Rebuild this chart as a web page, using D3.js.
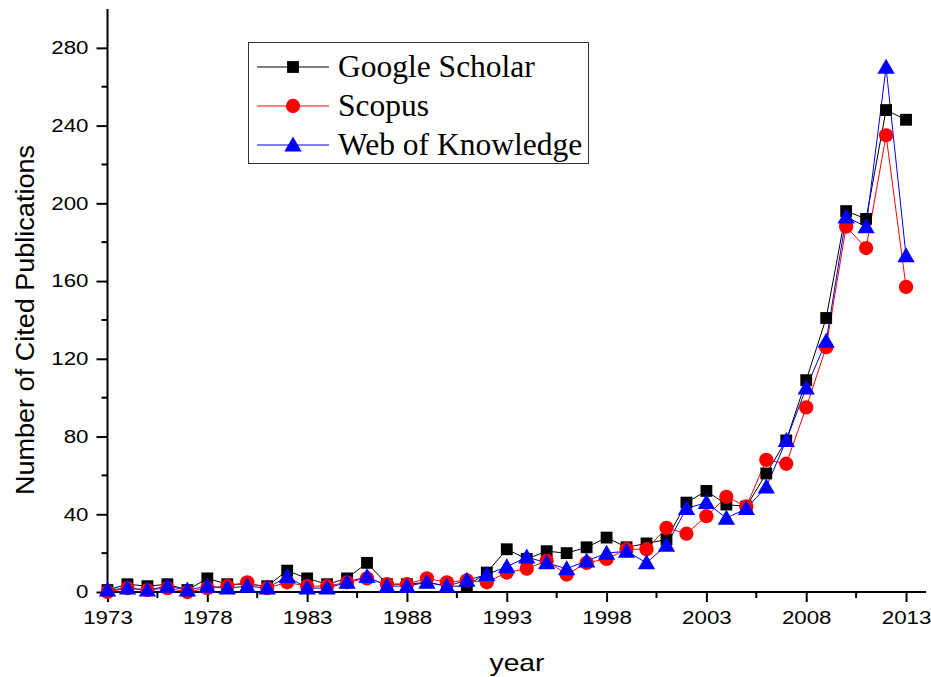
<!DOCTYPE html>
<html>
<head>
<meta charset="utf-8">
<script src="https://cdn.jsdelivr.net/npm/d3@7"></script>
<style>
  html, body { margin: 0; padding: 0; background: #fff; }
  svg { display: block; }
</style>
</head>
<body>
<svg id="chart" width="931" height="677"></svg>
<script>
const years = d3.range(1973, 2014);
const googleScholar = [1,4,3,4,1,7,4,4,3,11,7,4,7,15,4,4,5,3,3,10,22,17,21,20,23,28,23,25,27,46,52,45,44,61,78,109,141,196,192,248,243];
const scopus =        [0,2,1,2,0,2,3,5,2,5,3,3,5,7,4,4,7,5,6,5,10,12,16,9,15,17,22,22,33,30,39,49,44,68,66,95,126,188,177,235,157];
const webOfKnowledge =[1,2,1,3,1,3,2,3,2,8,2,2,5,8,3,3,5,3,6,9,13,18,15,12,16,20,21,15,24,43,46,38,43,54,78,105,129,193,188,270,173];
const xTickLabels = [1973, 1978, 1983, 1988, 1993, 1998, 2003, 2008, 2013];
const yTickLabels = [0, 40, 80, 120, 160, 200, 240, 280];
const seriesNames = ["Google Scholar", "Scopus", "Web of Knowledge"];

const svg = d3.select("#chart");
const x = d3.scaleLinear().domain([1973, 2014]).range([107.5, 926]);
const y = d3.scaleLinear().domain([0, 300]).range([592, 9]);
const sans = "Liberation Sans, Arial, sans-serif";
const digitW = 12.4;

// axis lines
svg.append("line").attr("x1", x(1973) - 1).attr("x2", x(2014)).attr("y1", y(0)).attr("y2", y(0))
  .attr("stroke", "#000").attr("stroke-width", 2);
svg.append("line").attr("x1", x(1973)).attr("x2", x(1973)).attr("y1", y(0) + 1).attr("y2", y(300))
  .attr("stroke", "#000").attr("stroke-width", 2);

const xMinor = d3.range(1975.5, 2014, 5);
const xAxis = d3.axisBottom(x).tickValues(xTickLabels).tickFormat(d3.format("d")).tickSize(10).tickSizeOuter(0);
const gx = svg.append("g").attr("transform", `translate(0,${y(0)})`).call(xAxis);
gx.select(".domain").remove();
gx.selectAll(".tick line").attr("stroke-width", 2);
gx.selectAll(".tick text").attr("font-family", sans).attr("font-size", 18).attr("y", 16).attr("dy", "0.9em")
  .attr("fill", "#000").attr("textLength", d => String(d).length * digitW).attr("lengthAdjust", "spacingAndGlyphs");
svg.append("g").selectAll("line").data(xMinor).join("line")
  .attr("x1", d => x(d)).attr("x2", d => x(d)).attr("y1", y(0)).attr("y2", y(0) + 6)
  .attr("stroke", "#000").attr("stroke-width", 2);

const yAxis = d3.axisLeft(y).tickValues(yTickLabels).tickSize(11).tickSizeOuter(0);
const gy = svg.append("g").attr("transform", `translate(${x(1973)},0)`).call(yAxis);
gy.select(".domain").remove();
gy.selectAll(".tick line").attr("stroke-width", 2);
gy.selectAll(".tick text").attr("font-family", sans).attr("font-size", 18).attr("x", -19).attr("fill", "#000")
  .attr("textLength", d => String(d).length * digitW).attr("lengthAdjust", "spacingAndGlyphs");
const yMinor = d3.range(20, 300, 40);
svg.append("g").selectAll("line").data(yMinor).join("line")
  .attr("x1", x(1973)).attr("x2", x(1973) - 6).attr("y1", d => y(d)).attr("y2", d => y(d))
  .attr("stroke", "#000").attr("stroke-width", 2);

// axis titles
svg.append("text").attr("x", 517).attr("y", 671).attr("text-anchor", "middle")
  .attr("font-family", sans).attr("font-size", 24).attr("textLength", 55).attr("lengthAdjust", "spacingAndGlyphs").text("year");
svg.append("text").attr("transform", "translate(34,320) rotate(-90)").attr("text-anchor", "middle")
  .attr("font-family", sans).attr("font-size", 25).attr("textLength", 350).attr("lengthAdjust", "spacingAndGlyphs")
  .text("Number of Cited Publications");

const series = [
  {name: seriesNames[0], values: googleScholar, color: "#000000", symbol: d3.symbolSquare, size: 140},
  {name: seriesNames[1], values: scopus, color: "#ff0000", symbol: d3.symbolCircle, size: 160},
  {name: seriesNames[2], values: webOfKnowledge, color: "#0000ff", symbol: d3.symbolTriangle, size: 130}
];

const line = d3.line().x((d, i) => x(years[i])).y(d => y(d));
series.forEach(s => {
  svg.append("path").datum(s.values).attr("d", line).attr("fill", "none").attr("stroke", s.color).attr("stroke-width", 1);
});
series.forEach(s => {
  const sym = d3.symbol().type(s.symbol).size(s.size);
  svg.append("g").selectAll("path").data(s.values).join("path")
    .attr("d", sym)
    .attr("transform", (d, i) => `translate(${x(years[i])},${y(d) + (s.symbol === d3.symbolTriangle ? 1.5 : 0)})`)
    .attr("fill", s.color);
});

// legend
const lg = svg.append("g");
lg.append("rect").attr("x", 248.5).attr("y", 42.5).attr("width", 340).attr("height", 121)
  .attr("fill", "#fff").attr("stroke", "#333").attr("stroke-width", 1);
series.forEach((s, i) => {
  const cy = 67 + i * 39;
  lg.append("line").attr("x1", 257).attr("x2", 329).attr("y1", cy).attr("y2", cy).attr("stroke", s.color).attr("stroke-width", 1);
  lg.append("path").attr("d", d3.symbol().type(s.symbol).size(s.size)())
    .attr("transform", `translate(293,${cy + (s.symbol === d3.symbolTriangle ? 1.5 : 0)})`).attr("fill", s.color);
  lg.append("text").attr("x", 338).attr("y", cy + 10).attr("font-family", "Liberation Serif, Times New Roman, serif")
    .attr("font-size", 31.5).text(s.name);
});
</script>
</body>
</html>
